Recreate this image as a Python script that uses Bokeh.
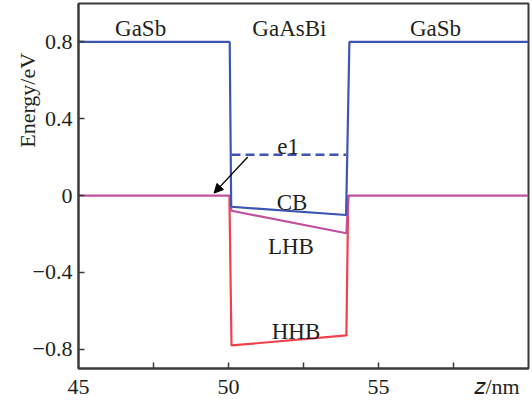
from bokeh.plotting import figure
from bokeh.models import FixedTicker, Label, Arrow, NormalHead
from bokeh.embed import file_html
from bokeh.resources import INLINE

# ---- data ----
cb_x = [45, 50.04, 50.09, 53.92, 54.03, 60]
cb_y = [0.8, 0.8, -0.058, -0.101, 0.8, 0.8]
lhb_x = [45, 50.05, 50.1, 53.93, 54.0, 60]
lhb_y = [0, 0, -0.079, -0.196, 0, 0]
hhb_x = [50.03, 50.1, 53.93, 53.99]
hhb_y = [0, -0.78, -0.728, 0]
e1_x = [50.1, 53.92]
e1_y = [0.213, 0.213]

x_ticks = [45, 50, 55]
x_tick_marks = [47.5, 50, 52.5, 55, 57.5]
x_unit_pos = 58.95
x_unit_text = "\U0001D467/nm"   # italic z / nm
y_ticks = [-0.8, -0.4, 0, 0.4, 0.8]
y_tick_labels = ["\u22120.8", "\u22120.4", "0", "0.4", "0.8"]

region_names = ["GaSb", "GaAsBi", "GaSb"]
region_x = [47.07, 52.03, 56.9]
band_names = ["e1", "CB", "LHB", "HHB"]
band_lx = [51.99, 52.12, 52.08, 52.25]
band_ly = [0.254, -0.038, -0.265, -0.707]

FONT = "Liberation Serif"
TXT = "#231f20"
FRAME = "#3a3a3a"
BLUE = "#3c55b2"
MAG = "#c1519f"
RED = "#f1414b"

p = figure(width=532, height=401, x_range=(45, 60), y_range=(-0.9, 1.0),
           output_backend="svg", toolbar_location=None,
           min_border_left=78, min_border_right=4, min_border_top=3,
           min_border_bottom=32)
p.grid.visible = False
p.outline_line_color = FRAME
p.outline_line_width = 2
p.background_fill_color = "white"
p.border_fill_color = "white"

for ax in (p.xaxis[0], p.yaxis[0]):
    ax.axis_line_color = FRAME
    ax.axis_line_width = 2
    ax.major_tick_line_color = FRAME
    ax.major_tick_line_width = 1.5
    ax.minor_tick_line_color = FRAME
    ax.minor_tick_line_width = 1.5
    ax.major_tick_in = 6
    ax.major_tick_out = 0
    ax.minor_tick_in = 6
    ax.minor_tick_out = 0
    ax.major_label_text_font = FONT
    ax.major_label_text_font_size = "22px"
    ax.major_label_text_color = TXT

# x axis: labels on (invisible) major ticks, visible marks as minor ticks
p.xaxis[0].ticker = FixedTicker(ticks=x_ticks + [x_unit_pos],
                                minor_ticks=x_tick_marks)
p.xaxis[0].major_tick_line_color = None
p.xaxis[0].major_label_overrides = {x_unit_pos: x_unit_text}
p.xaxis[0].major_label_standoff = 5

p.yaxis[0].ticker = FixedTicker(ticks=y_ticks, minor_ticks=[])
p.yaxis[0].major_label_standoff = 6
p.yaxis[0].major_label_overrides = {t: s for t, s in zip(y_ticks, y_tick_labels)}

# ---- bands ----
p.line(hhb_x, hhb_y, line_color=RED, line_width=2.2)
p.line(lhb_x, lhb_y, line_color=MAG, line_width=2.2)
p.line(cb_x, cb_y, line_color=BLUE, line_width=2.2)
p.line(e1_x, e1_y, line_color=BLUE, line_width=2.5, line_dash="9 5")

# ---- arrow ----
p.add_layout(Arrow(end=NormalHead(size=9, fill_color="black", line_color="black"),
                   x_start=50.64, y_start=0.201, x_end=49.52, y_end=0.013,
                   line_color="black", line_width=1.3))

# ---- texts inside the frame ----
for name, x in zip(region_names, region_x):
    p.add_layout(Label(x=x, y=0.870, text=name, text_align="center",
                       text_baseline="alphabetic", text_font=FONT,
                       text_font_size="23px", text_color=TXT))
for name, x, y in zip(band_names, band_lx, band_ly):
    p.add_layout(Label(x=x, y=y, text=name, text_align="center",
                       text_baseline="alphabetic", text_font=FONT,
                       text_font_size="23px", text_color=TXT))

# ---- y-axis title (side panel label, not clipped) ----
p.add_layout(Label(x=43.3, y=0.496, text="Energy/eV", angle=90,
                   angle_units="deg", text_align="center",
                   text_baseline="middle", text_font=FONT,
                   text_font_size="22px", text_color=TXT), "left")

open("out.html", "w").write(file_html(p, INLINE))
